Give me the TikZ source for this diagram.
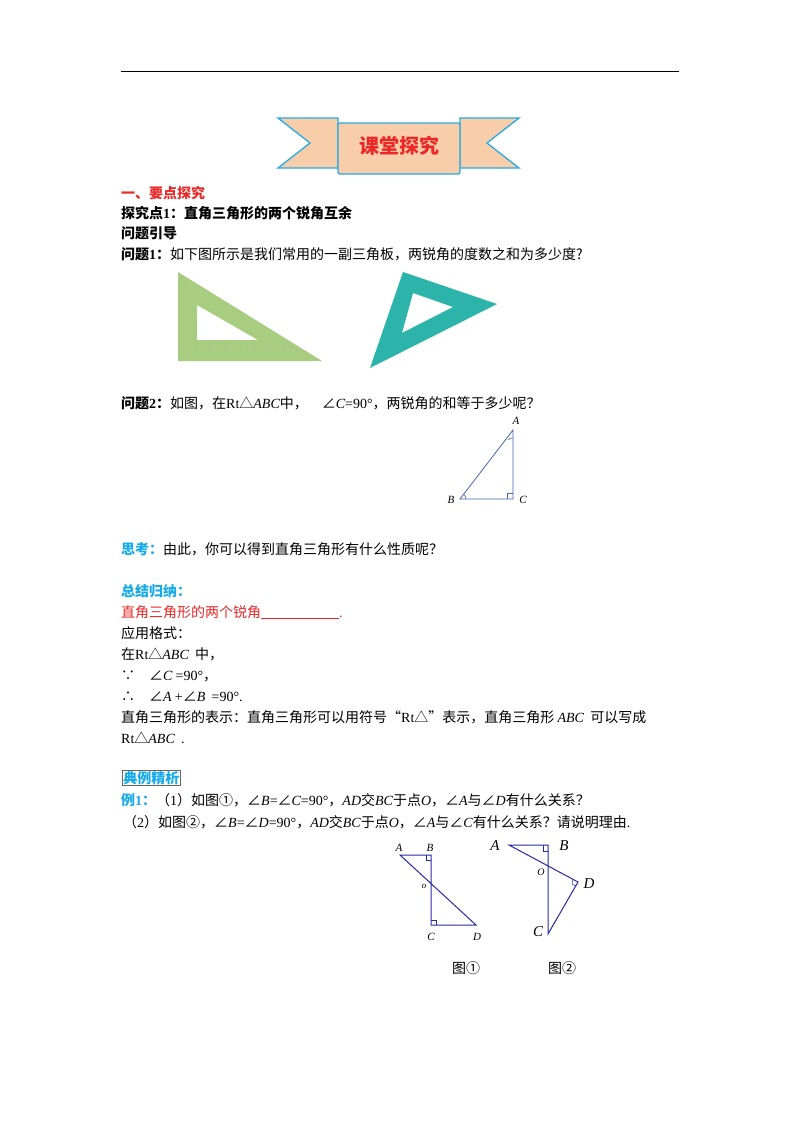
\documentclass[tikz,border=0pt]{standalone}
\usepackage{fontspec}
\usetikzlibrary{calc}
\setmainfont{Noto Sans CJK SC}
\newfontfamily\tm{Liberation Serif}
\newcommand{\mi}[1]{{\tm\itshape #1}}
\newcommand{\rmt}[1]{{\tm #1}}
\definecolor{myred}{RGB}{235,40,40}
\definecolor{myblue}{RGB}{20,170,235}
\definecolor{figblue}{RGB}{70,100,180}
\definecolor{navy}{RGB}{40,40,170}
\definecolor{peach}{RGB}{248,205,170}
\definecolor{ribbon}{RGB}{40,170,230}
\definecolor{sqgreen}{RGB}{168,205,128}
\definecolor{sqteal}{RGB}{45,180,170}
\begin{document}
\begin{tikzpicture}[x=1pt,y=-1pt,
  txt/.style={anchor=base west,inner sep=0pt,font=\fontsize{14}{16}\selectfont},
  lab/.style={inner sep=0pt,font=\fontsize{11}{12}\selectfont\tm\itshape},
  fig/.style={figblue,line width=0.8pt},
  fg/.style={navy,line width=1pt}]
\useasboundingbox (0,0) rectangle (800,1132);
\fill[white] (0,0) rectangle (800,1132);
\draw[line width=1pt] (121,72) -- (679,72);
% banner
\filldraw[fill=peach,draw=ribbon,line width=1.3pt] (278,118) -- (338,118) -- (338,168) -- (278,168) -- (310,143) -- cycle;
\filldraw[fill=peach,draw=ribbon,line width=1.3pt] (519,118) -- (460,118) -- (460,168) -- (519,168) -- (487,143) -- cycle;
\filldraw[fill=peach,draw=ribbon,line width=1.3pt,rounded corners=2pt] (338,123) rectangle (460,174);
\node[font=\fontsize{20}{22}\selectfont\bfseries,text=myred] (ban) at (399,146) {课堂探究};
% texts
\node[txt,text=myred,font=\fontsize{14}{16}\selectfont\bfseries] (t1) at (121,198) {一、要点探究};
\node[txt,font=\fontsize{14}{16}\selectfont\bfseries] (t2) at (121,218) {探究点\rmt{1}：直角三角形的两个锐角互余};
\node[txt,font=\fontsize{14}{16}\selectfont\bfseries] (t3) at (121,238) {问题引导};
\node[txt] (t4) at (121,259) {\textbf{问题\rmt{1}：}如下图所示是我们常用的一副三角板，两锐角的度数之和为多少度?};
% set squares
\fill[sqgreen,even odd rule] (178,272) -- (178,361) -- (322,361) -- cycle (197,305) -- (197,340) -- (258,340) -- cycle;
\foreach \i in {0,...,8} \node[font=\fontsize{4}{4}\selectfont,text=gray!60] at (182+\i*14.5,351) {\i};
\fill[sqteal,even odd rule] (403,272) -- (497,304) -- (370,368) -- cycle (413,293) -- (453,307) -- (402,333) -- cycle;
\node[txt] (t5) at (121,408) {\textbf{问题\rmt{2}：}如图，在\rmt{Rt}△\mi{ABC}中，\quad∠\mi{C}\rmt{=90°}，两锐角的和等于多少呢？};
% triangle ABC
\coordinate (A) at (513,430); \coordinate (B) at (460,499); \coordinate (C) at (513,499);
\draw[fig] (A) -- (B) -- (C) -- cycle;
\draw[fig,line width=0.6pt] (507,499) -- (507,493) -- (513,493);
\draw[fig,line width=0.6pt] ($(B)+(6,0)$) arc (0:-52:6);
\draw[fig,line width=0.6pt] ($(A)+(0,8)$) arc (-90:-127:8);
\node[lab] (la) at (516,421) {A};
\node[lab] (lb) at (451,500) {B};
\node[lab] (lc) at (523,500) {C};
\node[txt] (t6) at (121,554) {\textbf{\textcolor{myblue}{思考：}}由此，你可以得到直角三角形有什么性质呢？};
\node[txt,text=myblue,font=\fontsize{14}{16}\selectfont\bfseries] (t7) at (121,596) {总结归纳：};
\node[txt,text=myred] (t8) at (121,617) {直角三角形的两个锐角\rule[-2pt]{78pt}{0.6pt}\rmt{.}};
\node[txt] (t9) at (121,638) {应用格式：};
\node[txt] (t10) at (121,659) {在\rmt{Rt}△\mi{ABC}\ \ 中，};
\node[txt] (t11) at (121,680) {∵\quad ∠\mi{C}\ \rmt{=90°}，};
\node[txt] (t12) at (121,701) {∴\quad ∠\mi{A}\ \rmt{+}∠\mi{B}\ \ \rmt{=90°.}};
\node[txt] (t13) at (121,722) {直角三角形的表示：直角三角形可以用符号“\rmt{Rt}△”表示，直角三角形 \mi{ABC}\ \ 可以写成};
\node[txt] (t14) at (121,743) {\rmt{Rt}△\mi{ABC}\ \ \rmt{.}};
\node[txt,text=myblue,font=\fontsize{14}{16}\selectfont\bfseries,draw=gray!80!black,line width=0.8pt,inner sep=1pt] (t15) at (122,783) {典例精析};
\node[txt] (t16) at (121,805) {\textbf{\textcolor{myblue}{例\rmt{1}：}}（\rmt{1}）如图①，∠\mi{B}\rmt{=}∠\mi{C}\rmt{=90°}，\mi{AD}交\mi{BC}于点\mi{O}，∠\mi{A}与∠\mi{D}有什么关系？};
\node[txt] (t17) at (123,827) {（\rmt{2}）如图②，∠\mi{B}\rmt{=}∠\mi{D}\rmt{=90°}，\mi{AD}交\mi{BC}于点\mi{O}，∠\mi{A}与∠\mi{C}有什么关系？请说明理由\rmt{.}};
% fig 1
\coordinate (A1) at (400,855); \coordinate (B1) at (431,855); \coordinate (C1) at (431,925); \coordinate (D1) at (476,925);
\draw[fg] (A1) -- (B1) -- (C1) -- (D1) -- cycle;
\draw[fg,line width=0.5pt] (431,860) -- (426,860) -- (426,855);
\draw[fg,line width=0.5pt] (431,920) -- (436,920) -- (436,925);
\node[lab] (a1) at (399,848) {A};
\node[lab] (b1) at (430,848) {B};
\node[lab,font=\fontsize{9}{10}\selectfont\tm\itshape] (o1) at (424,886) {o};
\node[lab] (c1) at (431,937) {C};
\node[lab] (d1) at (477,937) {D};
% fig 2
\coordinate (A2) at (509,845); \coordinate (B2) at (548,845); \coordinate (C2) at (548,934); \coordinate (D2) at (578,882);
\draw[fg] (A2) -- (B2) -- (C2) -- (D2) -- cycle;
\draw[fg,line width=0.5pt] (548,851) -- (543,851) -- (543,845);
\draw[fg,line width=0.5pt] (573,879) -- (572,884) -- (576,886);
\node[lab,font=\fontsize{15}{16}\selectfont\tm\itshape] (a2) at (495,846) {A};
\node[lab,font=\fontsize{15}{16}\selectfont\tm\itshape] (b2) at (564,846) {B};
\node[lab,font=\fontsize{10}{11}\selectfont\tm\itshape] (o2) at (541,872) {O};
\node[lab,font=\fontsize{15}{16}\selectfont\tm\itshape] (d2) at (589,884) {D};
\node[lab,font=\fontsize{15}{16}\selectfont\tm\itshape] (c2) at (538,932) {C};
\node[txt] (f1) at (452,973) {图①};
\node[txt] (f2) at (548,973) {图②};
\end{tikzpicture}
\end{document}
